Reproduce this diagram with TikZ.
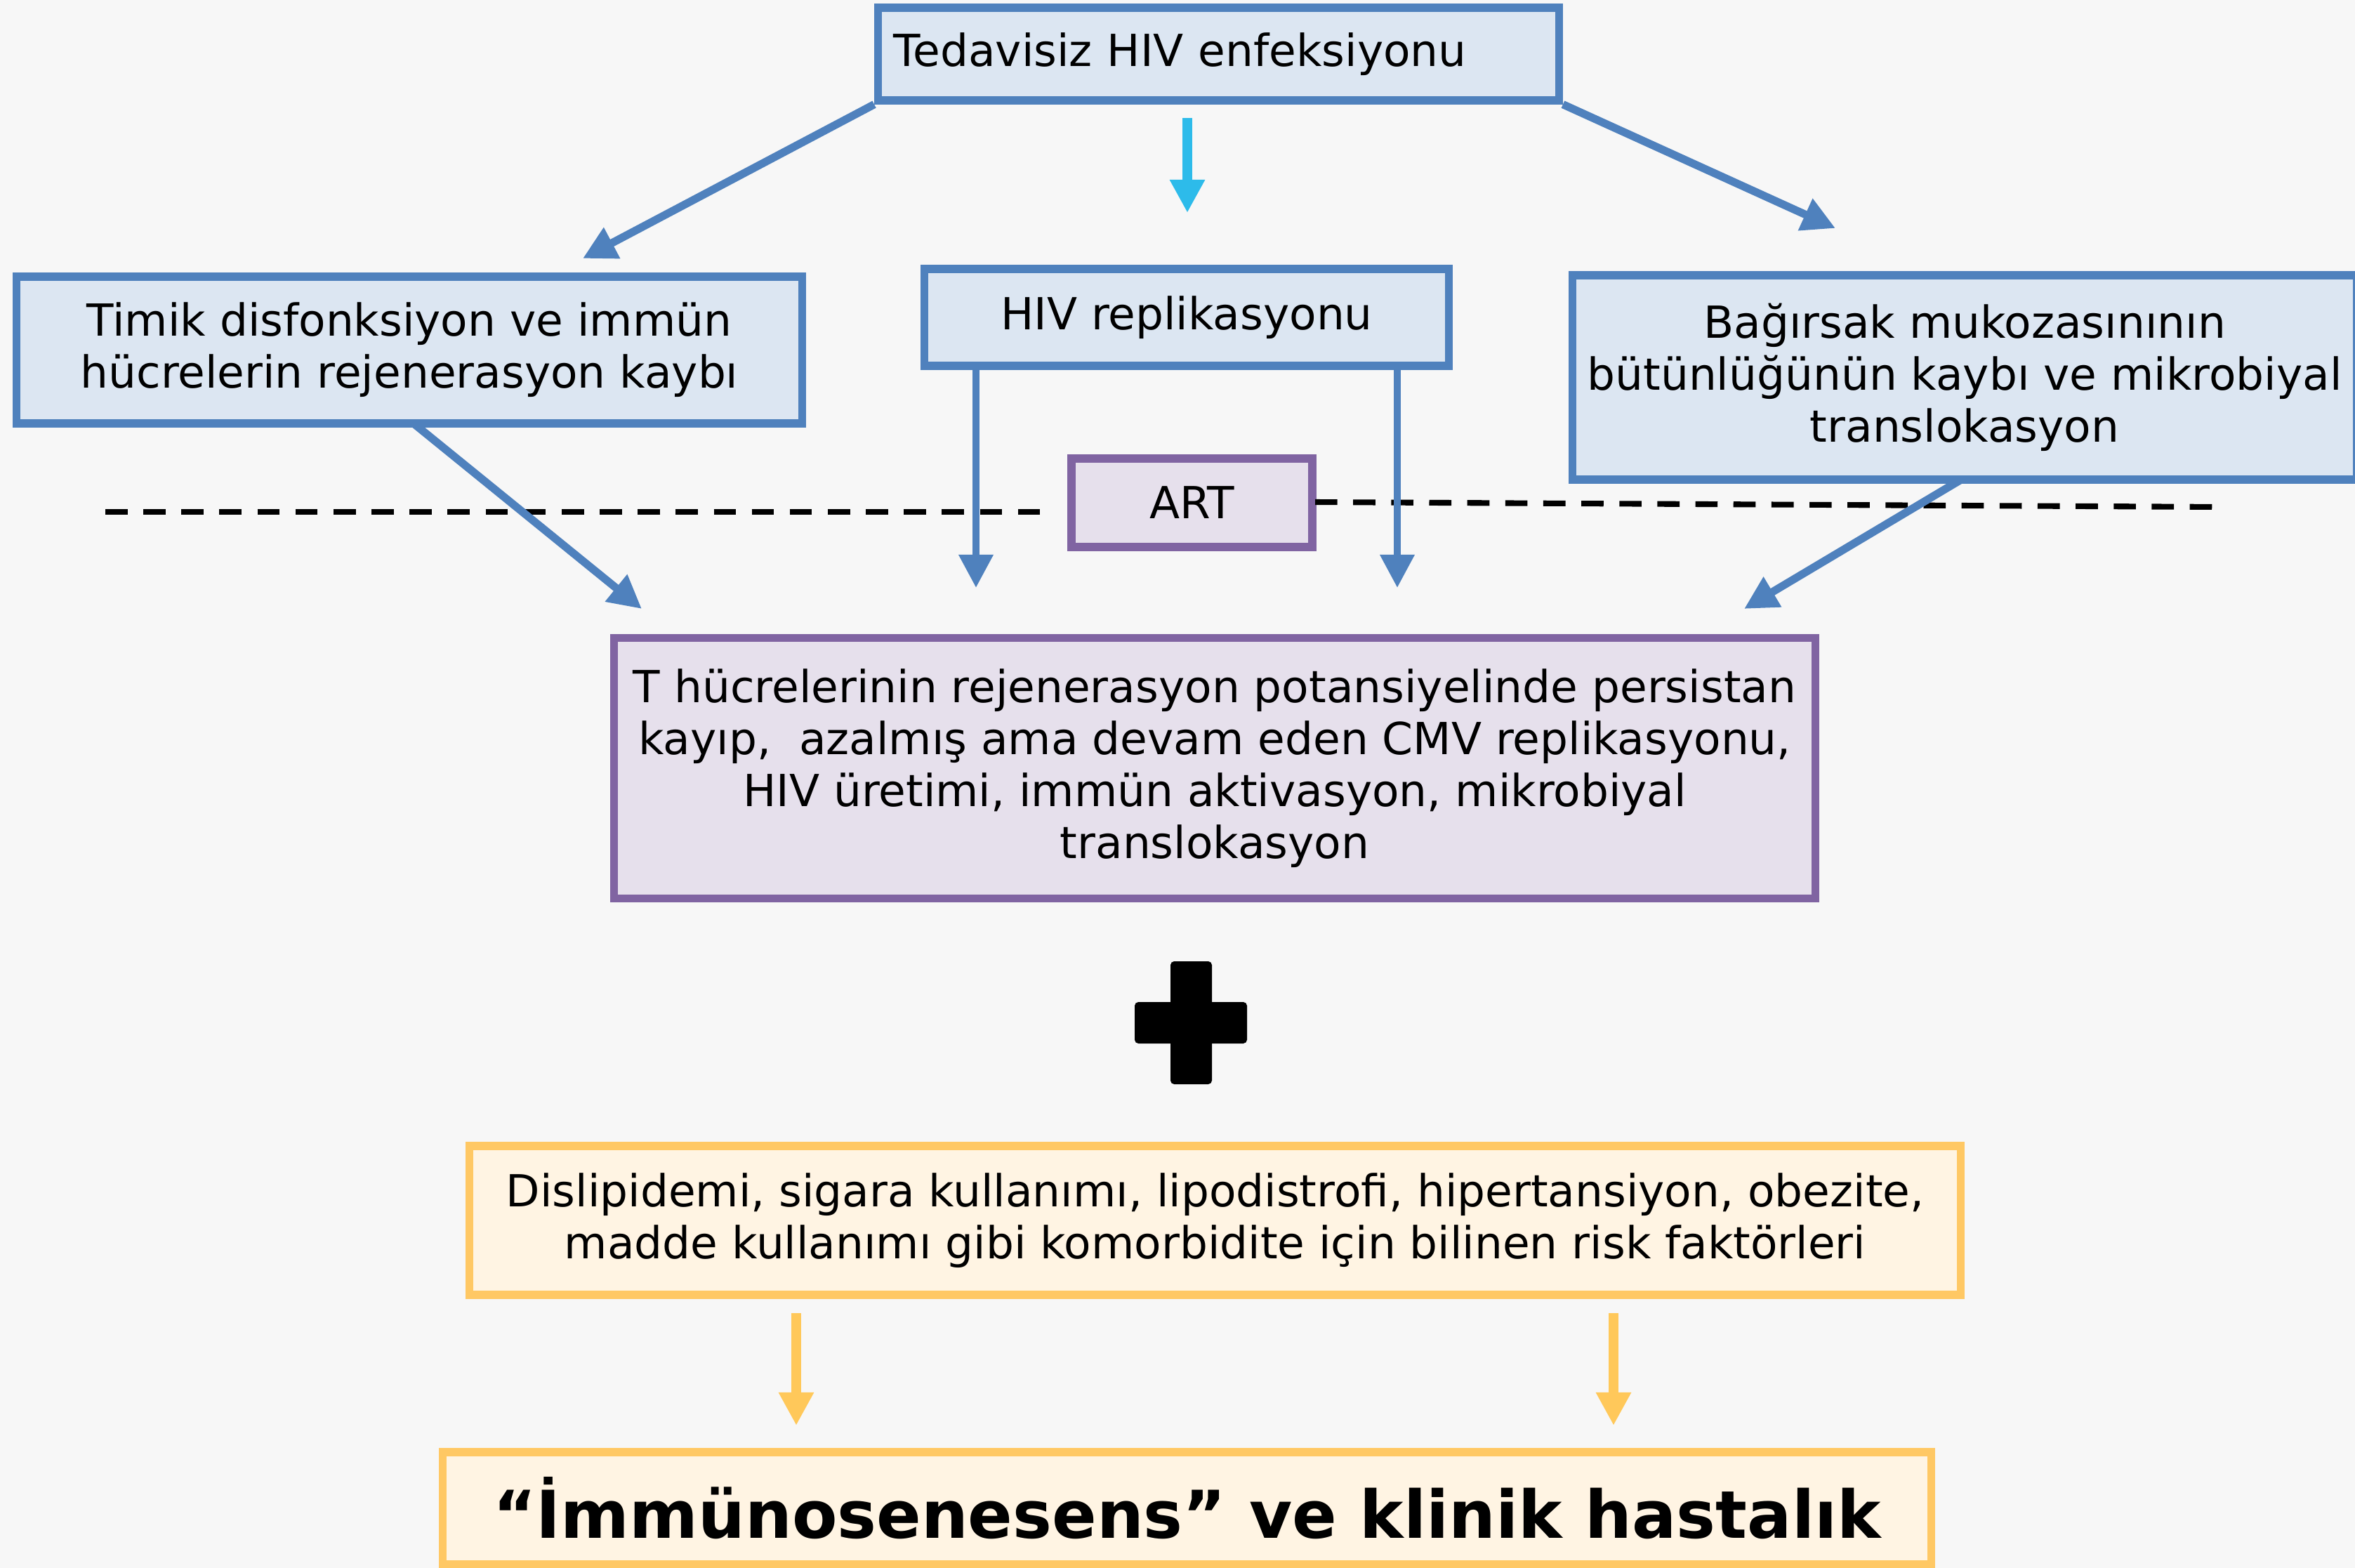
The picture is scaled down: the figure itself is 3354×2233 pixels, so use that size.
\documentclass[tikz,border=0pt]{standalone}
\usepackage{fontspec}
\setmainfont{DejaVu Sans}
\usetikzlibrary{arrows.meta}
\definecolor{bgc}{HTML}{F7F7F7}
\definecolor{bbord}{HTML}{4F81BD}
\definecolor{bfill}{HTML}{DCE6F2}
\definecolor{pbord}{HTML}{8064A2}
\definecolor{pfill}{HTML}{E6E0EC}
\definecolor{obord}{HTML}{FFC864}
\definecolor{ofill}{HTML}{FFF4E3}
\definecolor{cyanarr}{HTML}{2DBBEA}
\definecolor{yarr}{HTML}{FFC85A}
\begin{document}
\begin{tikzpicture}[x=0.01cm,y=-0.01cm,
  box/.style={draw, line width=3.2pt, inner sep=0pt, align=center,
    font=\fontsize{17.9}{21.1}\selectfont},
  bluebox/.style={box, draw=bbord, fill=bfill},
  purplebox/.style={box, draw=pbord, fill=pfill},
  orangebox/.style={box, draw=obord, fill=ofill},
  tipstyle/.style={-{Triangle[width=13.4pt,length=13.4pt]}},
  bluearr/.style={draw=bbord, line width=3.2pt, tipstyle},
  bluevarr/.style={draw=bbord, line width=2.8pt, tipstyle},
  cyanarrow/.style={draw=cyanarr, line width=4pt, tipstyle},
  yelarrow/.style={draw=yarr, line width=4pt, tipstyle},
  artline/.style={draw=black, line width=2.3pt, dash pattern=on 9pt off 6.4pt}
]
\useasboundingbox (0,0) rectangle (3354,2233);
\fill[bgc] (0,0) rectangle (3354,2233);

% boxes
\node[bluebox, minimum width=9.69cm, minimum height=1.32cm, text width=9.25cm, align=left]
  (A) at (1735.5,77) {Tedavisiz HIV enfeksiyonu};
\node[bluebox, minimum width=11.18cm, minimum height=2.09cm]
  (B) at (583,498.5) {Timik disfonksiyon ve immün\\hücrelerin rejenerasyon kaybı};
\node[bluebox, minimum width=7.46cm, minimum height=1.38cm]
  (C) at (1690,452) {HIV replikasyonu};
\node[bluebox, minimum width=11.17cm, minimum height=2.91cm]
  (D) at (2798,537.5) {Bağırsak mukozasınının\\bütünlüğünün kaybı ve mikrobiyal\\translokasyon};
\node[purplebox, minimum width=3.43cm, minimum height=1.26cm]
  (ART) at (1697.5,716) {ART};
\node[purplebox, minimum width=17.10cm, minimum height=3.71cm]
  (E) at (1730,1094) {T hücrelerinin rejenerasyon potansiyelinde persistan\\kayıp,~ azalmış ama devam eden CMV replikasyonu,\\HIV üretimi, immün aktivasyon, mikrobiyal\\translokasyon};
\node[orangebox, minimum width=21.23cm, minimum height=2.12cm]
  (F) at (1730.5,1738) {Dislipidemi, sigara kullanımı, lipodistrofi, hipertansiyon, obezite,\\madde kullanımı gibi komorbidite için bilinen risk faktörleri};
\node[orangebox, minimum width=21.19cm, minimum height=1.60cm,
  font=\fontsize{26.7}{31}\selectfont\bfseries]
  (G) at (1690.5,2148) {“İmmünosenesens” ve klinik hastalık};

% plus sign
\fill[black, rounded corners=1.5pt] (1667,1369) rectangle (1726,1544);
\fill[black, rounded corners=1.5pt] (1616,1427) rectangle (1776,1486);

% dashed ART line
\coordinate (dl1) at (150,729);
\coordinate (dl2) at (1488,729);
\coordinate (dr1) at (1873,715);
\coordinate (dr2) at (3164,722);
\draw[artline] (dl1) -- (dl2);
\draw[artline] (dr1) -- (dr2);

% arrow end points
\coordinate (tB) at (830,368);
\coordinate (tD) at (2614,325);
\coordinate (cy1) at (1691,168);
\coordinate (cy2) at (1691,303);
\coordinate (cl1) at (1390,521);
\coordinate (cl2) at (1390,837);
\coordinate (cr1) at (1990,521);
\coordinate (cr2) at (1990,837);
\coordinate (bs) at (589,603);
\coordinate (be) at (914,867);
\coordinate (ds) at (2793,683);
\coordinate (de) at (2484,867);
\coordinate (y1a) at (1134,1870);
\coordinate (y1b) at (1134,2030);
\coordinate (y2a) at (2298,1870);
\coordinate (y2b) at (2298,2030);

\draw[bluearr] (A.south west) -- (tB);
\draw[bluearr] (A.south east) -- (tD);
\draw[cyanarrow] (cy1) -- (cy2);
\draw[bluevarr] (cl1) -- (cl2);
\draw[bluevarr] (cr1) -- (cr2);
\draw[bluearr] (bs) -- (be);
\draw[bluearr] (ds) -- (de);
\draw[yelarrow] (y1a) -- (y1b);
\draw[yelarrow] (y2a) -- (y2b);
\end{tikzpicture}
\end{document}
